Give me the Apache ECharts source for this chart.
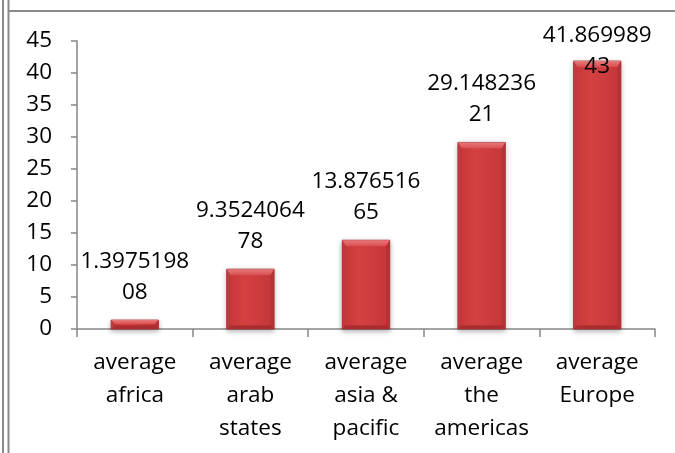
<!DOCTYPE html>
<html>
<head>
<meta charset="utf-8">
<script src="https://cdn.jsdelivr.net/npm/echarts@6/dist/echarts.min.js"></script>
<style>
  html, body { margin: 0; padding: 0; background: #fff; }
  #chart { width: 675px; height: 453px; }
</style>
</head>
<body>
<div id="chart"></div>
<script>
// Regional averages
const categories = [
  'average\nafrica',
  'average\narab\nstates',
  'average\nasia &\npacific',
  'average\nthe\namericas',
  'average\nEurope'
];
const values = [1.397519808, 9.352406478, 13.87651665, 29.14823621, 41.86998943];
const yTicks = { min: 0, max: 45, interval: 5 };

const FONT = 'Open Sans';
const AXIS_GREY = '#868686';

// Value labels wrap after nine characters, as a narrow text box would
function wrapValue(v) {
  const s = String(v);
  return s.length > 9 ? s.slice(0, 9) + '\n' + s.slice(9) : s;
}

// Bevelled red column drawn through the axis coordinate system
function renderBevelBar(params, api) {
  const idx = api.value(0);
  const top = api.coord([idx, api.value(1)]);
  const base = api.coord([idx, 0]);
  const w = api.size([1, 0])[0] * 0.41;
  const x = top[0] - w / 2;
  const y = top[1];
  const h = base[1] - top[1];
  const bt = Math.min(6, h / 2.2);   // top bevel depth
  const bs = Math.min(3.5, h / 2.2); // side / bottom bevel depth
  return {
    type: 'group',
    children: [
      {
        type: 'rect',
        shape: { x: x, y: y, width: w, height: h },
        style: {
          fill: '#b83337',
          stroke: '#a32a2d',
          lineWidth: 0.8,
          shadowColor: 'rgba(0,0,0,0.3)',
          shadowBlur: 5,
          shadowOffsetY: 2
        }
      },
      {
        type: 'rect',
        shape: { x: x + bs, y: y + bt, width: w - 2 * bs, height: h - bt - bs },
        style: {
          fill: new echarts.graphic.LinearGradient(0, 0, 1, 0, [
            { offset: 0, color: '#c8383b' },
            { offset: 0.35, color: '#d4413f' },
            { offset: 0.6, color: '#cf3d40' },
            { offset: 1, color: '#c5373a' }
          ])
        }
      },
      {
        type: 'polygon',
        shape: { points: [[x, y], [x + w, y], [x + w - bs, y + bt], [x + bs, y + bt]] },
        style: {
          fill: new echarts.graphic.LinearGradient(0, 0, 0, 1, [
            { offset: 0, color: '#e7797b' },
            { offset: 1, color: '#da4f51' }
          ])
        }
      },
      {
        type: 'polygon',
        shape: { points: [[x, y], [x + bs, y + bt], [x + bs, y + h - bs], [x, y + h]] },
        style: { fill: '#c0393c' }
      },
      {
        type: 'polygon',
        shape: { points: [[x + w, y], [x + w - bs, y + bt], [x + w - bs, y + h - bs], [x + w, y + h]] },
        style: { fill: '#b53235' }
      },
      {
        type: 'polygon',
        shape: { points: [[x, y + h], [x + bs, y + h - bs], [x + w - bs, y + h - bs], [x + w, y + h]] },
        style: { fill: '#ab2c2f' }
      }
    ]
  };
}

const chart = echarts.init(document.getElementById('chart'), null, { renderer: 'canvas' });

const labelData = values.map(function (v, i) {
  if (i === values.length - 1) {
    // top column label sits lower, overlapping the column head
    return { value: v, label: { offset: [0, 33] } };
  }
  return v;
});

chart.setOption({
  backgroundColor: '#ffffff',
  animation: false,
  grid: { left: 77, right: 20, top: 41, bottom: 124, outerBoundsMode: 'none' },
  xAxis: {
    type: 'category',
    data: categories,
    axisLine: { lineStyle: { color: AXIS_GREY, width: 1.5 } },
    axisTick: { show: true, length: 8, alignWithLabel: false, lineStyle: { color: AXIS_GREY, width: 1.5 } },
    axisLabel: {
      interval: 0,
      margin: 17,
      fontFamily: FONT,
      fontSize: 22.5,
      lineHeight: 33,
      color: '#000'
    }
  },
  yAxis: {
    type: 'value',
    min: yTicks.min,
    max: yTicks.max,
    interval: yTicks.interval,
    splitLine: { show: false },
    axisLine: { show: true, lineStyle: { color: AXIS_GREY, width: 1.5 } },
    axisTick: { show: true, length: 6, lineStyle: { color: AXIS_GREY, width: 1.5 } },
    axisLabel: {
      margin: 25,
      fontFamily: FONT,
      fontSize: 22.5,
      color: '#000'
    }
  },
  graphic: [
    { type: 'line', shape: { x1: 3, y1: 0, x2: 3, y2: 453 }, style: { stroke: '#8a8a8a', lineWidth: 2 } },
    { type: 'line', shape: { x1: 8.5, y1: 0, x2: 8.5, y2: 453 }, style: { stroke: '#8a8a8a', lineWidth: 2 } },
    { type: 'line', shape: { x1: 8, y1: 11, x2: 675, y2: 11 }, style: { stroke: '#8a8a8a', lineWidth: 2 } }
  ],
  series: [
    {
      type: 'custom',
      z: 2,
      silent: true,
      renderItem: renderBevelBar,
      encode: { x: 0, y: 1 },
      data: values.map(function (v, i) { return [i, v]; })
    },
    {
      type: 'bar',
      z: 3,
      barWidth: '41%',
      silent: true,
      itemStyle: { color: 'rgba(0,0,0,0)' },
      label: {
        show: true,
        position: 'top',
        distance: 12,
        fontFamily: FONT,
        fontSize: 22.5,
        lineHeight: 31,
        color: '#000',
        formatter: function (p) { return wrapValue(p.value); }
      },
      data: labelData
    }
  ]
});
</script>
</body>
</html>
